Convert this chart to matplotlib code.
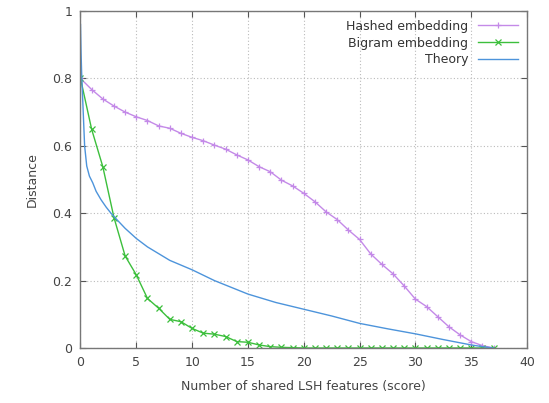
import matplotlib
matplotlib.use("Agg")
import matplotlib.pyplot as plt
import numpy as np

# score values where the embeddings were evaluated
score = np.arange(0, 38)

hashed = [0.800, 0.767, 0.739, 0.718, 0.700, 0.686, 0.675, 0.659, 0.652, 0.637,
          0.625, 0.615, 0.602, 0.590, 0.573, 0.558, 0.538, 0.523, 0.498, 0.481,
          0.459, 0.434, 0.404, 0.381, 0.350, 0.322, 0.279, 0.248, 0.220, 0.184,
          0.145, 0.123, 0.093, 0.063, 0.039, 0.019, 0.007, 0.000]

bigram = [0.800, 0.649, 0.538, 0.387, 0.273, 0.217, 0.147, 0.118, 0.085, 0.078,
          0.058, 0.044, 0.041, 0.034, 0.019, 0.017, 0.009, 0.004, 0.002, 0.001,
          0.0, 0.0, 0.0, 0.0, 0.0, 0.0, 0.0, 0.0, 0.0, 0.0,
          0.0, 0.0, 0.0, 0.0, 0.0, 0.0, 0.0, 0.0]

theory_x = [0, 0.05, 0.1, 0.2, 0.37, 0.56, 0.8, 1.1, 1.4, 1.84, 2.3, 2.73, 3.2,
            4, 5, 6, 7, 8, 10, 12, 15, 17.5, 20, 22.5, 25, 27.5, 30, 32.5, 35,
            36, 37]
theory_y = [0.96, 0.88, 0.82, 0.736, 0.60, 0.54, 0.51, 0.49, 0.465, 0.44,
            0.418, 0.40, 0.383, 0.355, 0.325, 0.30, 0.28, 0.26, 0.232, 0.20,
            0.16, 0.135, 0.115, 0.095, 0.073, 0.057, 0.042, 0.025, 0.009,
            0.004, 0.0]

C_HASH = "#c48ae8"
C_BIGRAM = "#3cbf3c"
C_THEORY = "#4d94db"
GREY = "#555555"

plt.rcParams.update({"font.family": "DejaVu Sans", "font.size": 9})

fig = plt.figure(figsize=(5.49, 4.03), dpi=100)
ax = fig.add_axes([0.1466, 0.1365, 0.8134, 0.8362])

ax.plot(score, hashed, color=C_HASH, lw=1.0, marker="+", ms=5, mew=0.9,
        label="Hashed embedding")
ax.plot(score, bigram, color=C_BIGRAM, lw=1.0, marker="x", ms=4, mew=0.9,
        label="Bigram embedding")
ax.plot(theory_x, theory_y, color=C_THEORY, lw=1.0, label="Theory")

ax.set_xlim(0, 40)
ax.set_ylim(0, 1)
ax.set_xticks(np.arange(0, 41, 5))
ax.set_yticks([0, 0.2, 0.4, 0.6, 0.8, 1])
ax.set_yticklabels(["0", "0.2", "0.4", "0.6", "0.8", "1"])

ax.grid(True, color="#bbbbbb", linestyle=(0, (1, 2)), lw=0.8)
ax.tick_params(direction="in", top=True, right=True, length=4, width=0.8,
               colors=GREY, labelcolor="#444444", pad=6)
for sp in ax.spines.values():
    sp.set_color("#777777")
    sp.set_linewidth(1.0)

ax.set_xlabel("Number of shared LSH features (score)", color="#444444", labelpad=8)
ax.set_ylabel("Distance", color="#444444", labelpad=10)

leg = ax.legend(loc="upper right", frameon=False, markerfirst=False,
                numpoints=1, handlelength=3.2, labelspacing=0.3,
                borderaxespad=0.3, handletextpad=0.8)
for t in leg.get_texts():
    t.set_color("#333333")

fig.savefig("out.png", dpi=100)
